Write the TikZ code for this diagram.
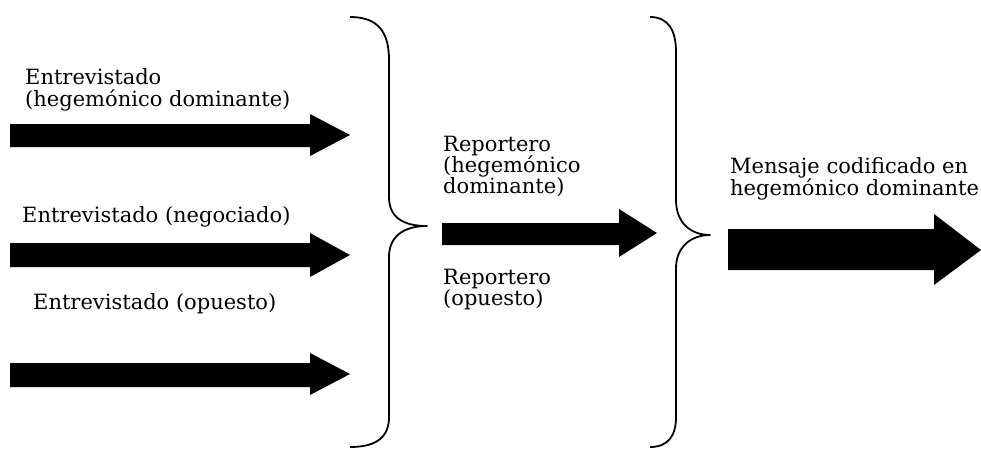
\documentclass[tikz,border=0pt]{standalone}
\usepackage{fontspec}
\setmainfont{DejaVu Serif}
\begin{document}
\begin{tikzpicture}[x=1pt,y=-1pt,
  blockarrow/.style={fill=black},
  bracepath/.style={draw=black,line width=1.8pt,line join=round},
  lbl/.style={inner sep=0pt,anchor=base west,align=left,
    font=\fontsize{21}{22}\selectfont}]
\useasboundingbox (0,0) rectangle (981,450);
% input arrows
\fill[blockarrow] (10,124) -- (310,124) -- (310,114) -- (350,135) -- (310,156) -- (310,147) -- (10,147) -- cycle;
\fill[blockarrow] (10,243) -- (310,243) -- (310,233) -- (350,255) -- (310,277) -- (310,267) -- (10,267) -- cycle;
\fill[blockarrow] (10,363) -- (310,363) -- (310,353) -- (350,374) -- (310,395) -- (310,387) -- (10,387) -- cycle;
% labels
\node[lbl] (e1a) at (25,84) {Entrevistado};
\node[lbl] (e1b) at (25,106) {(hegemónico dominante)};
\node[lbl] (e2) at (22,222) {Entrevistado (negociado)};
\node[lbl] (e3) at (33,309) {Entrevistado (opuesto)};
% brace 1
\draw[bracepath] (350,17) .. controls (378,17) and (389,32) .. (389,60) -- (389,197)
  .. controls (389,218) and (404,226) .. (427,226)
  .. controls (404,226) and (389,236) .. (389,257) -- (389,417)
  .. controls (389,436) and (378,447) .. (350,447);
% middle arrow
\fill[blockarrow] (442,223) -- (619,223) -- (619,209) -- (657,233) -- (619,257) -- (619,245) -- (442,245) -- cycle;
\node[lbl] (r1a) at (443,151) {Reportero};
\node[lbl] (r1b) at (443,172) {(hegemónico};
\node[lbl] (r1c) at (443,193) {dominante)};
\node[lbl] (r2a) at (443,284) {Reportero};
\node[lbl] (r2b) at (443,305) {(opuesto)};
% brace 2
\draw[bracepath] (650,17) .. controls (668,17) and (676,30) .. (676,52) -- (676,200)
  .. controls (676,222) and (690,235) .. (710,235)
  .. controls (690,235) and (676,248) .. (676,268) -- (676,417)
  .. controls (676,436) and (668,447) .. (650,447);
% output arrow
\fill[blockarrow] (728,229) -- (934,229) -- (934,214) -- (981,250) -- (934,285) -- (934,270) -- (728,270) -- cycle;
\node[lbl] (m1) at (730,173) {Mensaje codificado en};
\node[lbl] (m2) at (730,195) {hegemónico dominante};
\end{tikzpicture}
\end{document}
